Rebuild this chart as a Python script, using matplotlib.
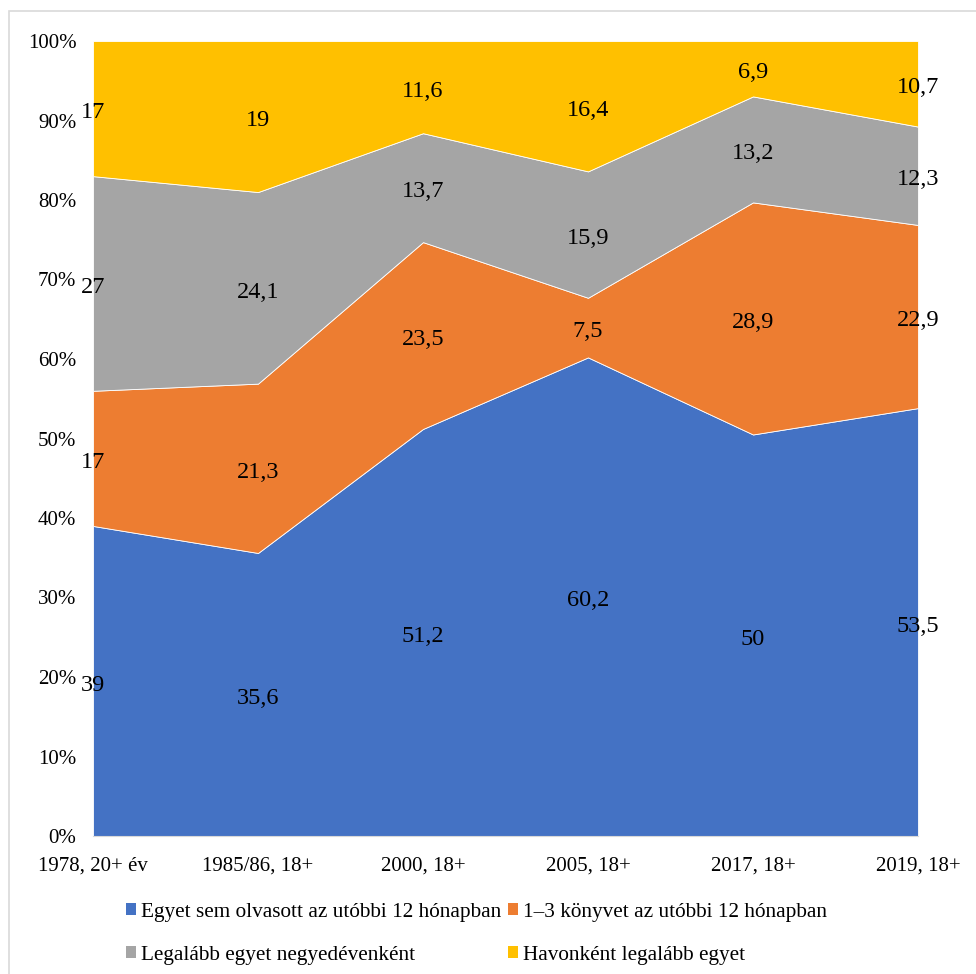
import numpy as np
import matplotlib.pyplot as plt
from matplotlib.patches import Patch, Rectangle

plt.rcParams['font.family'] = ['Liberation Serif', 'DejaVu Serif']

# Kategóriák és adatsorok
categories = ['1978, 20+ év', '1985/86, 18+', '2000, 18+', '2005, 18+', '2017, 18+', '2019, 18+']
egyet_sem = [39, 35.6, 51.2, 60.2, 50, 53.5]
egy_harom = [17, 21.3, 23.5, 7.5, 28.9, 22.9]
negyedevente = [27, 24.1, 13.7, 15.9, 13.2, 12.3]
havonta = [17, 19, 11.6, 16.4, 6.9, 10.7]

names = ['Egyet sem olvasott az utóbbi 12 hónapban',
         '1–3 könyvet az utóbbi 12 hónapban',
         'Legalább egyet negyedévenként',
         'Havonként legalább egyet']
colors = ['#4472C4', '#ED7D31', '#A5A5A5', '#FFC000']

series = np.array([egyet_sem, egy_harom, negyedevente, havonta], dtype=float)
# 100%-os halmozott terület
share = series / series.sum(axis=0) * 100
x = np.arange(len(categories))

fig = plt.figure(figsize=(9.76, 9.74), dpi=100)
ax = fig.add_axes([93 / 976, 1 - 836 / 974, 825 / 976, 795 / 974])

ax.stackplot(x, share, colors=colors, edgecolor='white', linewidth=0.6)

# adatfeliratok a sávok közepén
bottom = np.zeros(len(x))
for i in range(len(series)):
    mid = bottom + share[i] / 2
    for j in range(len(x)):
        txt = f'{series[i][j]:g}'.replace('.', ',')
        ax.annotate(txt, (x[j], mid[j]), xytext=(0, -3), textcoords='offset points',
                    ha='center', va='center', fontsize=17.5)
    bottom += share[i]

ax.set_xlim(0, len(x) - 1)
ax.set_ylim(0, 100)
ax.set_yticks(np.arange(0, 101, 10))
ax.set_yticklabels([f'{v}%' for v in range(0, 101, 10)], fontsize=15)
ax.set_xticks(x)
ax.set_xticklabels(categories, fontsize=15)
ax.tick_params(axis='y', length=0, pad=12)
ax.tick_params(axis='x', length=0, pad=15)
for s in ['top', 'right', 'left']:
    ax.spines[s].set_visible(False)
ax.spines['bottom'].set_color('#D9D9D9')

# jelmagyarázat: 1. sor kék, narancs; 2. sor szürke, sárga
order = [0, 2, 1, 3]
handles = [Patch(facecolor=colors[k], label=names[k]) for k in order]
fig.legend(handles=handles, loc='upper left', bbox_to_anchor=(117 / 976, 1 - 894 / 974),
           borderaxespad=0, ncol=2, frameon=False, fontsize=15.3,
           handlelength=0.48, handleheight=0.48, handletextpad=0.25,
           columnspacing=0.3, labelspacing=1.15)

# külső keret
fig.patches.append(Rectangle((9 / 976, -0.01), 1.0, 1 - 11 / 974 + 0.01,
                             transform=fig.transFigure, fill=False,
                             edgecolor='#D9D9D9', linewidth=1.2))

fig.savefig('out.png', dpi=100)
